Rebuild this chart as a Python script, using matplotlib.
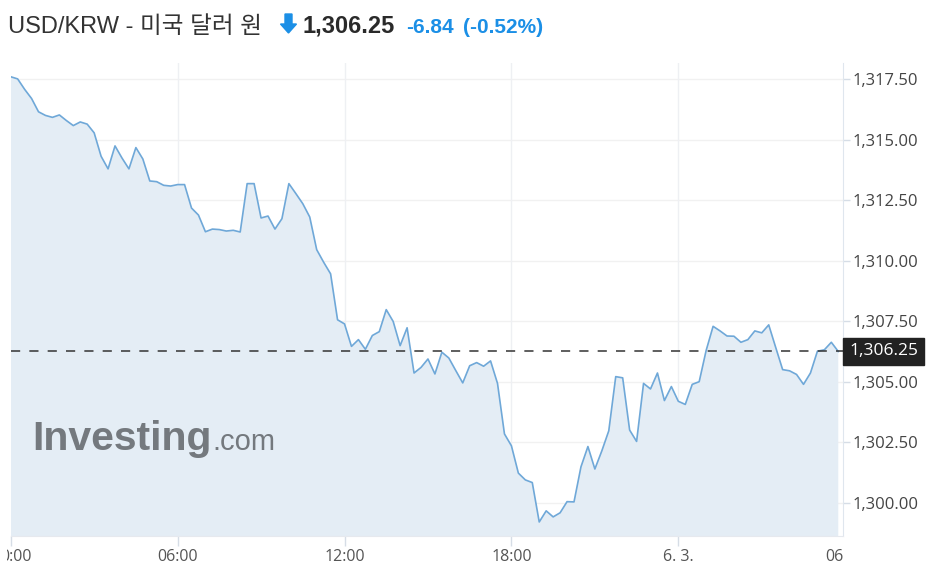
import matplotlib
matplotlib.use('Agg')
import matplotlib.pyplot as plt
import matplotlib.transforms as mtransforms
from matplotlib.patches import Polygon, Rectangle
import numpy as np

# USD/KRW quotes, 15 minute steps from 00:00
rate = [
    1317.61, 1317.52, 1317.09, 1316.71, 1316.16, 1316.01, 1315.93, 1316.03,
    1315.80, 1315.59, 1315.74, 1315.65, 1315.29, 1314.32, 1313.80, 1314.75,
    1314.25, 1313.80, 1314.68, 1314.21, 1313.30, 1313.27, 1313.12, 1313.09,
    1313.15, 1313.15, 1312.18, 1311.89, 1311.20, 1311.31, 1311.29, 1311.23,
    1311.26, 1311.19, 1313.19, 1313.19, 1311.77, 1311.85, 1311.31, 1311.74,
    1313.19, 1312.78, 1312.36, 1311.81, 1310.46, 1309.94, 1309.46, 1307.56,
    1307.39, 1306.46, 1306.74, 1306.34, 1306.91, 1307.07, 1307.98, 1307.49,
    1306.49, 1307.23, 1305.36, 1305.59, 1305.94, 1305.32, 1306.22, 1305.98,
    1305.46, 1304.95, 1305.66, 1305.79, 1305.64, 1305.86, 1304.93, 1302.84,
    1302.35, 1301.22, 1300.94, 1300.83, 1299.20, 1299.66, 1299.41, 1299.58,
    1300.04, 1300.03, 1301.48, 1302.32, 1301.39, 1302.14, 1302.97, 1305.21,
    1305.16, 1303.00, 1302.53, 1304.93, 1304.70, 1305.36, 1304.22, 1304.80,
    1304.19, 1304.06, 1304.89, 1305.00, 1306.29, 1307.29, 1307.10, 1306.89,
    1306.88, 1306.63, 1306.74, 1307.10, 1307.02, 1307.35, 1306.42, 1305.50,
    1305.45, 1305.30, 1304.89, 1305.36, 1306.26, 1306.32, 1306.63, 1306.25,
]
hours = np.arange(len(rate)) * 0.25

last_price = 1306.25
change = '-6.84'
change_pct = '(-0.52%)'
title = 'USD/KRW - 미국 달러 원'

xtick_pos = [0, 6, 12, 18, 24, 30]
xtick_lab = ['0:00', '06:00', '12:00', '18:00', '6. 3.', '06:00']
ytick_pos = [1300.0, 1302.5, 1305.0, 1307.5, 1310.0, 1312.5, 1315.0, 1317.5]

W, H = 933, 575
fig = plt.figure(figsize=(W / 100, H / 100), dpi=100)
ax_l, ax_r, ax_t, ax_b = 10.7, 843, 62.7, 536
ax = fig.add_axes([ax_l / W, 1 - ax_b / H, (ax_r - ax_l) / W, (ax_b - ax_t) / H])
aw, ah = ax_r - ax_l, ax_b - ax_t

ax.fill_between(hours, rate, 1290, color='#e4edf5', lw=0, zorder=1)
ax.plot(hours, rate, color='#6fa8d8', lw=1.2, zorder=3)
ax.axhline(last_price, color='#333333', lw=1.1, ls=(0, (6, 6)), zorder=4)

ax.set_xlim(0, 29.92)
ax.set_ylim(1298.62, 1318.19)

# grid
for y in ytick_pos:
    ax.axhline(y, color='#f1f1f1', lw=1, zorder=0.5)
for x in xtick_pos[1:-1]:
    ax.axvline(x, color='#eef0f3', lw=1, zorder=0.5)

for s in ['top', 'left']:
    ax.spines[s].set_visible(False)
ax.spines['right'].set_color('#dfe6ee')
ax.spines['bottom'].set_color('#e6e9ee')

ax.yaxis.tick_right()
ax.set_yticks(ytick_pos)
ax.set_yticklabels(['{:,.2f}'.format(v) for v in ytick_pos],
                   fontsize=12, color='#444444', family='Open Sans')
ax.tick_params(axis='y', length=5, width=1, color='#d6dde6', pad=2)

ax.set_xticks(xtick_pos[:-1])
ax.set_xticklabels([])
ax.tick_params(axis='x', length=7, width=1, color='#d6dde6')

# x labels, clipped at the chart edges
clip_tr = mtransforms.blended_transform_factory(ax.transAxes, fig.transFigure)
clip_box = mtransforms.TransformedBbox(
    mtransforms.Bbox([[-4 / aw, 0], [1.0, 1]]), clip_tr)
lab_tr = mtransforms.blended_transform_factory(ax.transData, fig.transFigure)
for i, (xp, lab) in enumerate(zip(xtick_pos, xtick_lab)):
    tr = lab_tr
    if i == 0:
        tr = mtransforms.offset_copy(lab_tr, fig=fig, x=5, units='dots')
    t = ax.text(xp, 1 - 561 / H, lab, transform=tr, ha='center', va='baseline',
                fontsize=11.5, color='#555555', family='Open Sans', clip_on=True)
    t.set_clip_box(clip_box)

# current price marker
box_y = ax.transData.transform((0, last_price))[1] / H
fig.patches.append(Rectangle((843 / W, box_y - 13.5 / H), 81 / W, 27 / H,
                             transform=fig.transFigure, color='#222222', zorder=5))
fig.text(883.5 / W, box_y, '{:,.2f}'.format(last_price), ha='center', va='center',
         fontsize=12.5, color='white', family='Open Sans', zorder=6)

# watermark
wm_y = 1 - (450 - ax_t) / ah
ax.text((32 - ax_l) / aw, wm_y, 'Investing', transform=ax.transAxes,
        fontsize=29.5, fontweight='bold', color='#74797e', family='Liberation Sans',
        va='baseline', ha='left', zorder=2)
ax.text((212 - ax_l) / aw, wm_y, '.com', transform=ax.transAxes,
        fontsize=21, color='#74797e', family='Liberation Sans',
        va='baseline', ha='left', zorder=2)

# header
base = 1 - 33 / H
fig.text(8 / W, base, title, fontsize=17, color='#333333',
         family=['Liberation Sans', 'Noto Sans CJK KR'], va='baseline')
arrow = np.array([[285, 14], [292, 14], [292, 24], [296.5, 24], [288.5, 33],
                  [280.5, 24], [285, 24]])
fig.patches.append(Polygon(np.column_stack([arrow[:, 0] / W, 1 - arrow[:, 1] / H]),
                           closed=True, transform=fig.transFigure, color='#1b8fe6'))
fig.text(303 / W, base, '{:,.2f}'.format(last_price), fontsize=17, fontweight='bold',
         color='#2a2a2a', family='Liberation Sans', va='baseline')
fig.text(406 / W, base, change, fontsize=15, fontweight='bold',
         color='#1b8fe6', family='Liberation Sans', va='baseline')
fig.text(463 / W, base, change_pct, fontsize=15, fontweight='bold',
         color='#1b8fe6', family='Liberation Sans', va='baseline')

fig.savefig('out.png', dpi=100)
